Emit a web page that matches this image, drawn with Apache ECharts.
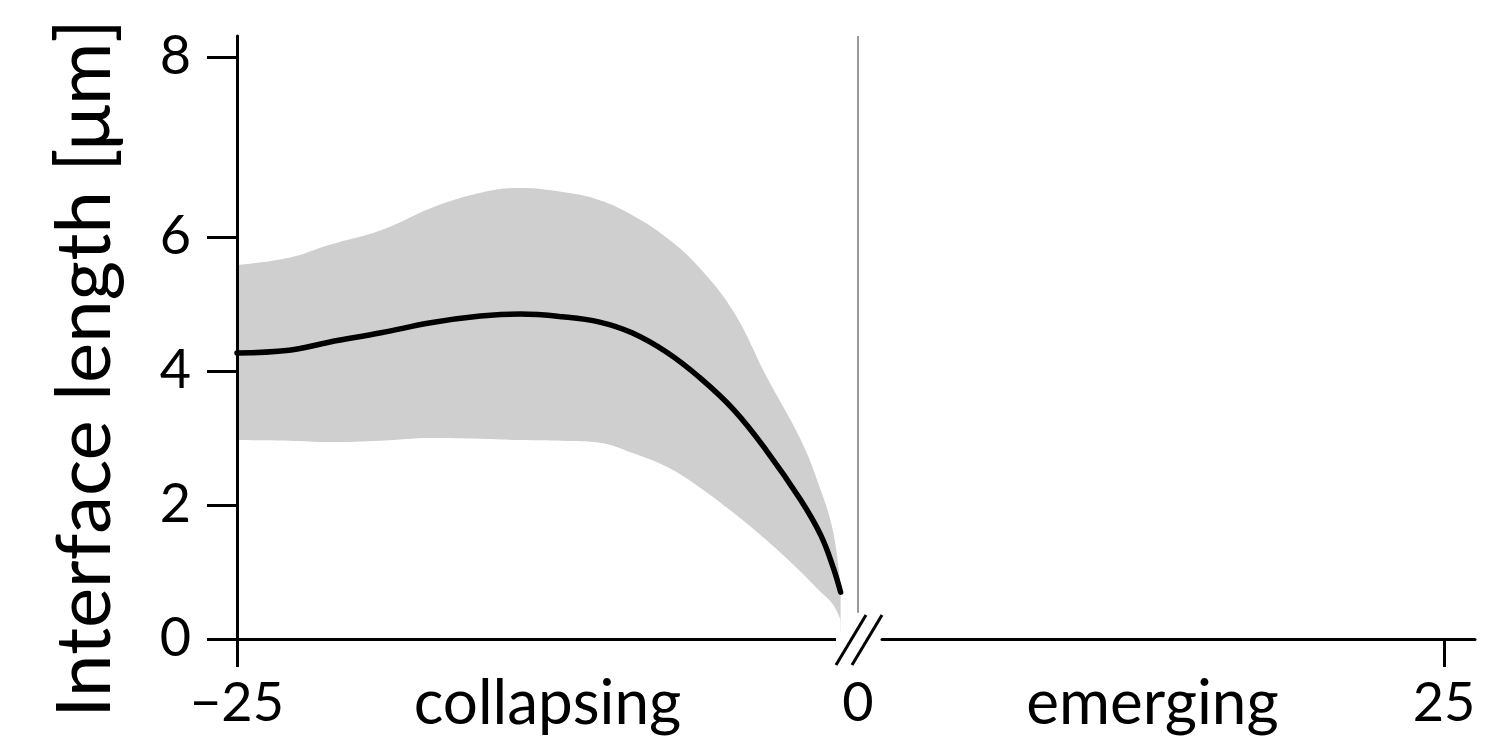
<!DOCTYPE html>
<html>
<head>
<meta charset="utf-8">
<script src="https://cdn.jsdelivr.net/npm/echarts@6/dist/echarts.min.js"></script>
<style>
html,body{margin:0;padding:0;background:#fff;}
#chart{width:1485px;height:746px;}
</style>
</head>
<body>
<div id="chart"></div>
<script>
// time before transition (collapsing side)
var times = [-25, -22.9, -21.3, -19.2, -17.2, -15.2, -13.6, -11.9, -10.4, -9.1, -7.7, -6.4, -5.0, -3.7, -2.3, -1.5, -1.0, -0.7];
var meanLength = [4.27, 4.31, 4.43, 4.57, 4.72, 4.82, 4.85, 4.81, 4.73, 4.57, 4.28, 3.91, 3.42, 2.82, 2.07, 1.55, 1.07, 0.70];
var upperLength = [5.58, 5.69, 5.88, 6.10, 6.43, 6.66, 6.73, 6.67, 6.55, 6.33, 5.99, 5.55, 4.88, 3.93, 2.97, 2.22, 1.60, 0.79];
var lowerLength = [2.97, 2.96, 2.94, 2.96, 3.00, 2.99, 2.97, 2.96, 2.93, 2.78, 2.57, 2.27, 1.88, 1.48, 1.00, 0.70, 0.51, 0.28];

// y ticks: the "8" tick sits higher than a linear axis would put it
var yTickValues = [0, 2, 4, 6, 8.69];
var yTickLabels = ['0', '2', '4', '6', '8'];
var leftTickValues = [-25];
var leftLabelValues = [-25, 0];
var leftLabels = ['\u221225', '0'];
var rightTickValues = [25];
var rightLabels = ['25'];

var font = 'Lato';
var axisColor = '#000';

var lowerData = [], upperData = [], meanData = [];
for (var i = 0; i < times.length; i++) {
	lowerData.push([times[i], lowerLength[i]]);
	upperData.push([times[i], upperLength[i]]);
	meanData.push([times[i], meanLength[i]]);
}

var chart = echarts.init(document.getElementById('chart'));
var option = {
	animation: false,
	grid: [
		{left: 237, top: 36, width: 621, height: 603, outerBoundsMode: 'none', containLabel: false},
		{left: 882, top: 36, width: 593, height: 603, outerBoundsMode: 'none', containLabel: false}
	],
	xAxis: [{
		gridIndex: 0,
		type: 'value',
		min: -25,
		max: 0,
		z: 10,
		splitLine: {show: false},
		axisLine: {onZero: false, lineStyle: {color: axisColor, width: 3}},
		axisTick: {customValues: leftTickValues, length: 28, lineStyle: {color: axisColor, width: 3}},
		axisLabel: {
			customValues: leftLabelValues,
			margin: 38,
			fontFamily: font, fontSize: 54, color: '#000',
			formatter: function (v) { return leftLabels[leftLabelValues.indexOf(v)]; }
		},
		name: 'collapsing',
		nameLocation: 'middle',
		nameGap: 34,
		nameMoveOverlap: false,
		nameTextStyle: {fontFamily: font, fontSize: 62, color: '#000', verticalAlign: 'top'}
	}, {
		gridIndex: 1,
		type: 'value',
		min: 1.02,
		max: 26.32,
		z: 10,
		splitLine: {show: false},
		axisLine: {onZero: false, lineStyle: {color: axisColor, width: 3}},
		axisTick: {customValues: rightTickValues, length: 28, lineStyle: {color: axisColor, width: 3}},
		axisLabel: {
			customValues: rightTickValues,
			margin: 38,
			fontFamily: font, fontSize: 54, color: '#000',
			formatter: function (v) { return rightLabels[rightTickValues.indexOf(v)]; }
		},
		name: 'emerging',
		nameLocation: 'middle',
		nameGap: 34,
		nameMoveOverlap: false,
		nameTextStyle: {fontFamily: font, fontSize: 62, color: '#000', verticalAlign: 'top', padding: [0, 52, 0, 0]}
	}],
	yAxis: [{
		gridIndex: 0,
		type: 'value',
		min: 0,
		max: 9,
		z: 10,
		splitLine: {show: false},
		axisLine: {show: true, onZero: false, lineStyle: {color: axisColor, width: 3}},
		axisTick: {show: true, customValues: yTickValues, length: 30, lineStyle: {color: axisColor, width: 3}},
		axisLabel: {
			customValues: yTickValues,
			margin: 46,
			fontFamily: font, fontSize: 54, color: '#000',
			formatter: function (v) { return yTickLabels[yTickValues.indexOf(v)]; }
		},
		name: 'Interface length [\u03bcm]',
		nameLocation: 'middle',
		nameGap: 114,
		nameMoveOverlap: false,
		nameTextStyle: {fontFamily: font, fontSize: 76, color: '#000', padding: [0, 62, 0, 0]}
	}, {
		gridIndex: 1,
		type: 'value',
		min: 0,
		max: 9,
		show: false
	}],
	series: [{
		name: 'upper',
		type: 'line',
		xAxisIndex: 0, yAxisIndex: 0,
		data: upperData,
		smooth: 0.4,
		symbol: 'none',
		lineStyle: {width: 0},
		areaStyle: {color: '#cfcfcf', opacity: 1},
		silent: true,
		z: 2
	}, {
		name: 'lower',
		type: 'line',
		xAxisIndex: 0, yAxisIndex: 0,
		data: lowerData,
		smooth: 0.4,
		symbol: 'none',
		lineStyle: {width: 0},
		areaStyle: {color: '#fff', opacity: 1},
		silent: true,
		z: 3
	}, {
		name: 'zero',
		type: 'line',
		xAxisIndex: 0, yAxisIndex: 0,
		data: [[0, 0.39], [0, 9]],
		symbol: 'none',
		clip: false,
		lineStyle: {color: '#999', width: 2},
		silent: true,
		z: 3
	}, {
		name: 'mean',
		type: 'line',
		xAxisIndex: 0, yAxisIndex: 0,
		data: meanData,
		smooth: 0.4,
		symbol: 'none',
		lineStyle: {color: '#000', width: 5.5, cap: 'round'},
		z: 5
	}],
	graphic: [
		// axis break marks
		{type: 'rect', shape: {x: 836, y: 632, width: 26, height: 14}, style: {fill: '#fff'}, z: 100},
		{type: 'line', shape: {x1: 836, y1: 665, x2: 866, y2: 615}, style: {stroke: '#000', lineWidth: 3}, z: 101},
		{type: 'line', shape: {x1: 852, y1: 665, x2: 882, y2: 615}, style: {stroke: '#000', lineWidth: 3}, z: 101}
	]
};
chart.setOption(option);
window.onresize = chart.resize;
</script>
</body>
</html>
